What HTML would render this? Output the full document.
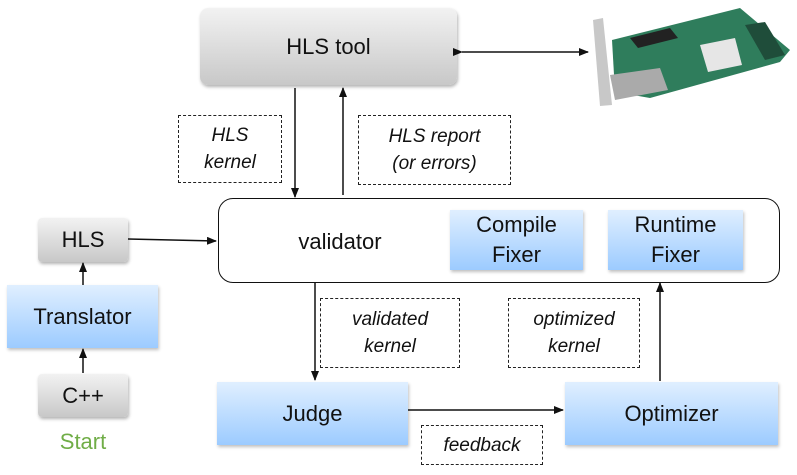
<!DOCTYPE html>
<html><head><style>
body{margin:0;width:797px;height:475px;background:#fff;position:relative;overflow:hidden;font-family:"Liberation Sans",sans-serif}
.b{position:absolute;display:flex;align-items:center;justify-content:center;text-align:center;color:#111}
.g{background:linear-gradient(#f2f2f2,#c8c8c8);border-radius:8px;box-shadow:1px 2px 3px rgba(0,0,0,.3)}
.bl{background:linear-gradient(#e0efff,#9ccbff);box-shadow:1px 2px 3px rgba(0,0,0,.25)}
.d{border:1.7px dashed #222;font-style:italic;font-size:19px;line-height:27px;background:#fff}
</style></head><body>
<div class="b g" style="left:200px;top:8px;width:257px;height:77px;font-size:22px">HLS tool</div>
<div class="b d" style="left:178px;top:115px;width:102px;height:66px">HLS<br>kernel</div>
<div class="b d" style="left:358px;top:115px;width:151px;height:68px">HLS report<br>(or errors)</div>
<div class="b" style="left:218px;top:198px;width:560px;height:83px;border:1.5px solid #111;border-radius:15px"></div>
<div class="b" style="left:280px;top:222px;width:120px;height:40px;font-size:22px">validator</div>
<div class="b bl" style="left:450px;top:210px;width:133px;height:60px;font-size:22px;line-height:30px">Compile<br>Fixer</div>
<div class="b bl" style="left:608px;top:210px;width:135px;height:60px;font-size:22px;line-height:30px">Runtime<br>Fixer</div>
<div class="b g" style="left:38px;top:218px;width:90px;height:44px;font-size:22px;border-radius:4px">HLS</div>
<div class="b bl" style="left:7px;top:285px;width:151px;height:63px;font-size:22px">Translator</div>
<div class="b g" style="left:38px;top:374px;width:90px;height:43px;font-size:22px;border-radius:4px">C++</div>
<div class="b" style="left:33px;top:428px;width:100px;height:28px;font-size:22px;color:#70ad47">Start</div>
<div class="b d" style="left:320px;top:298px;width:138px;height:68px">validated<br>kernel</div>
<div class="b d" style="left:508px;top:298px;width:130px;height:68px">optimized<br>kernel</div>
<div class="b bl" style="left:217px;top:382px;width:191px;height:63px;font-size:22px">Judge</div>
<div class="b bl" style="left:565px;top:382px;width:213px;height:63px;font-size:22px">Optimizer</div>
<div class="b d" style="left:421px;top:425px;width:120px;height:38px">feedback</div>
<svg width="797" height="475" style="position:absolute;left:0;top:0">
<defs><marker id="a" markerWidth="10" markerHeight="8" refX="9" refY="4" orient="auto" markerUnits="userSpaceOnUse"><path d="M0,0L10,4L0,8z" fill="#111"/></marker></defs>
<g stroke="#111" stroke-width="1.5" fill="none">
<line x1="462" y1="52" x2="588" y2="52" marker-end="url(#a)" marker-start="url(#a)"/>
<line x1="295" y1="88" x2="295" y2="197" marker-end="url(#a)"/>
<line x1="343" y1="195" x2="343" y2="88" marker-end="url(#a)"/>
<line x1="128" y1="239" x2="216" y2="241" marker-end="url(#a)"/>
<line x1="83" y1="285" x2="83" y2="263" marker-end="url(#a)"/>
<line x1="83" y1="373" x2="83" y2="349" marker-end="url(#a)"/>
<line x1="315" y1="283" x2="315" y2="380" marker-end="url(#a)"/>
<line x1="660" y1="381" x2="660" y2="283" marker-end="url(#a)"/>
<line x1="408" y1="410" x2="563" y2="410" marker-end="url(#a)"/>
</g>
<polygon points="593,20 603,18 612,105 600,106" fill="#c8c8c8"/>
<polygon points="612,40 740,8 790,50 780,62 650,98 615,92" fill="#2f7d5c"/>
<polygon points="630,38 670,28 678,38 638,48" fill="#222"/>
<polygon points="700,45 735,38 742,65 708,72" fill="#e6e6e6"/>
<polygon points="745,25 765,22 785,55 765,60" fill="#1f4d3a"/>
<polygon points="610,75 660,68 668,90 615,100" fill="#aaa"/>
</svg>
</body></html>
